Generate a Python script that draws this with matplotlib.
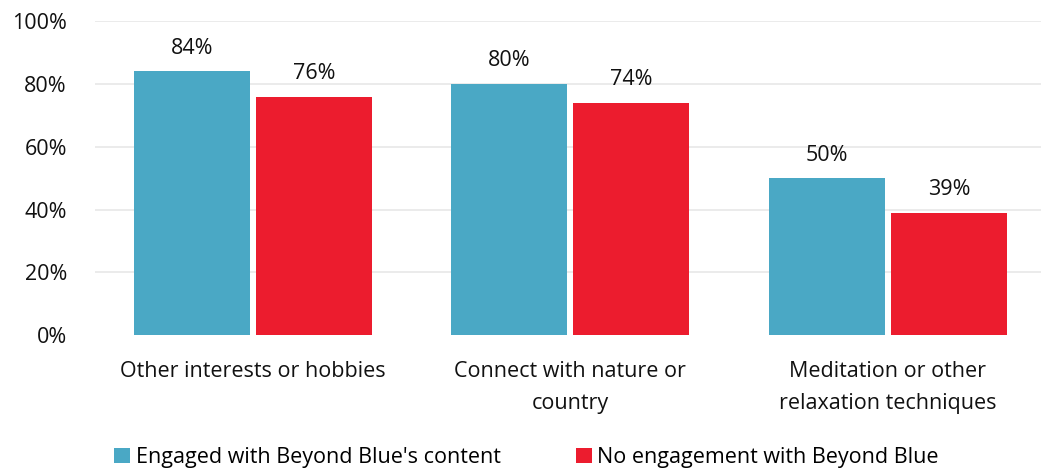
import numpy as np
import matplotlib.pyplot as plt

categories = ["Other interests or hobbies", "Connect with nature or\ncountry",
              "Meditation or other\nrelaxation techniques"]
engaged = [84, 80, 50]
no_engagement = [76, 74, 39]
series_names = ["Engaged with Beyond Blue's content", "No engagement with Beyond Blue"]

blue = "#4AA8C5"
red = "#EC1C2E"

plt.rcParams['font.family'] = ['Open Sans', 'DejaVu Sans']

fig = plt.figure(figsize=(10.41, 4.70), dpi=100)
ax = fig.add_axes([0.091, 0.287, 0.909, 0.668])

x = np.arange(len(categories))
w = 0.365
off = 0.192
b1 = ax.bar(x - off, engaged, w, color=blue, label=series_names[0])
b2 = ax.bar(x + off, no_engagement, w, color=red, label=series_names[1])

for bars, vals in [(b1, engaged), (b2, no_engagement)]:
    for b, v in zip(bars, vals):
        ax.annotate(f"{v}%", (b.get_x() + b.get_width() / 2, v),
                    xytext=(0, 9), textcoords="offset points",
                    ha="center", va="bottom", fontsize=15.5, color="#111111")

ax.set_ylim(0, 100)
ax.set_xlim(-0.498, 2.482)
ax.set_yticks(range(0, 101, 20))
ax.set_yticklabels([f"{t}%" for t in range(0, 101, 20)])
ax.set_xticks(x)
ax.set_xticklabels(categories, linespacing=1.65)
ax.tick_params(axis='both', length=0, labelsize=15.5, colors="#111111")
ax.tick_params(axis='x', pad=19)
ax.tick_params(axis='y', pad=20)

ax.yaxis.grid(True, color="#E8E8E8", linewidth=1.2)
ax.yaxis.get_gridlines()[0].set_visible(False)
ax.set_axisbelow(True)
for s in ax.spines.values():
    s.set_visible(False)

fig.legend(loc="lower left", bbox_to_anchor=(0.091, -0.037), ncol=2, frameon=False,
           fontsize=15.5, handlelength=0.75, handleheight=0.75, handletextpad=0.25,
           columnspacing=3.5)

fig.savefig("out.png", dpi=100)
